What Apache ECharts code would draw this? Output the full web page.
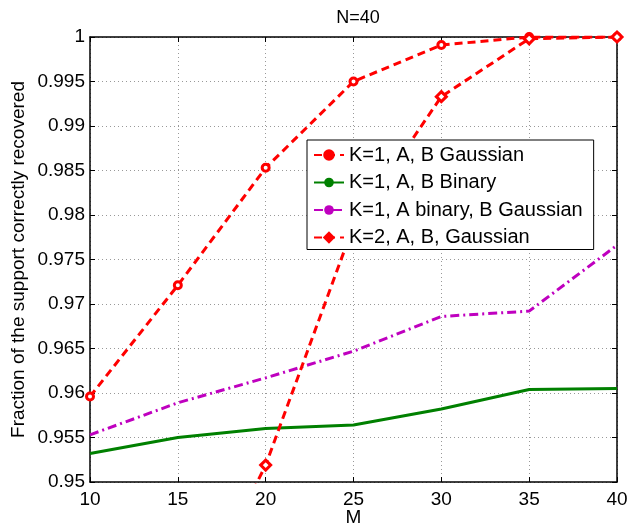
<!DOCTYPE html>
<html>
<head>
<meta charset="utf-8">
<script src="https://cdn.jsdelivr.net/npm/echarts@6/dist/echarts.min.js"></script>
<style>
html,body{margin:0;padding:0;background:#fff;}
#chart{width:639px;height:527px;}
</style>
</head>
<body>
<div id="chart"></div>
<script>
var titleText = 'N=40';
var xName = 'M';
var yName = 'Fraction of the support correctly recovered';
var M = [10, 15, 20, 25, 30, 35, 40];
var seriesNames = ['K=1, A, B Gaussian', 'K=1, A, B Binary', 'K=1, A binary, B Gaussian', 'K=2, A, B, Gaussian'];
var k1Gaussian = [0.9596, 0.9721, 0.9853, 0.9950, 0.9991, 1.0000, 1.0000];
var k1Binary = [0.9532, 0.9550, 0.9560, 0.9564, 0.9582, 0.9604, 0.9605];
var k1Mixed = [0.9553, 0.9589, 0.9617, 0.9647, 0.9686, 0.9692, 0.9766];
var k2Gaussian = [null, 0.932, 0.9519, 0.9788, 0.9933, 0.9998, 1.0000];

function pairs(ys) { return M.map(function (x, i) { return [x, ys[i]]; }); }

var FONT = 'Liberation Sans, Arial, Helvetica, sans-serif';
var chart = echarts.init(document.getElementById('chart'));

var baseX = { type: 'value', min: 10, max: 40, interval: 5 };
var baseY = { type: 'value', min: 0.95, max: 1, interval: 0.005 };
var axisLine = { show: true, onZero: false, lineStyle: { color: '#000', width: 1.5 } };
var axisTick = { show: true, inside: true, length: 5, lineStyle: { color: '#000', width: 1 } };

chart.setOption({
  animation: false,
  backgroundColor: '#fff',
  title: {
    text: titleText, left: 353, top: 4, textAlign: 'center',
    textStyle: { fontFamily: FONT, fontSize: 18, fontWeight: 'normal', color: '#000' }
  },
  grid: { left: 90, right: 22, top: 37, bottom: 45, containLabel: false, outerBoundsMode: 'none' },
  legend: {
    orient: 'vertical', left: 307, top: 140,
    data: [
      { name: seriesNames[0], itemStyle: { color: '#ff0000', borderColor: '#ff0000' } },
      { name: seriesNames[1] },
      { name: seriesNames[2] },
      { name: seriesNames[3], itemStyle: { color: '#ff0000', borderColor: '#ff0000' } }
    ],
    backgroundColor: '#fff', borderColor: '#000', borderWidth: 1,
    padding: [5, 11, 2, 6],
    itemWidth: 30, itemHeight: 12, itemGap: 7.5,
    textStyle: { fontFamily: FONT, fontSize: 20, color: '#000', lineHeight: 20 }
  },
  xAxis: [
    Object.assign({}, baseX, {
      position: 'bottom', name: xName, nameLocation: 'middle', nameGap: 26,
      nameMoveOverlap: false,
      nameTextStyle: { fontFamily: FONT, fontSize: 19, color: '#000', verticalAlign: 'top' },
      axisLine: axisLine, axisTick: axisTick,
      axisLabel: { fontFamily: FONT, fontSize: 19, color: '#000', margin: 8 },
      splitLine: { show: true, lineStyle: { color: '#999', type: [1, 3], width: 1 } }
    }),
    Object.assign({}, baseX, {
      position: 'top', axisLine: axisLine, axisTick: axisTick,
      axisLabel: { show: false }, splitLine: { show: false }
    })
  ],
  yAxis: [
    Object.assign({}, baseY, {
      position: 'left', name: yName, nameLocation: 'middle', nameGap: 62,
      nameMoveOverlap: false,
      nameTextStyle: { fontFamily: FONT, fontSize: 19, color: '#000' },
      axisLine: axisLine, axisTick: axisTick,
      axisLabel: {
        fontFamily: FONT, fontSize: 19, color: '#000', margin: 5,
        formatter: function (v) { return String(+v.toFixed(3)); }
      },
      splitLine: { show: true, lineStyle: { color: '#999', type: [1, 3], width: 1 } }
    }),
    Object.assign({}, baseY, {
      position: 'right', axisLine: axisLine, axisTick: axisTick,
      axisLabel: { show: false }, splitLine: { show: false }
    })
  ],
  series: [
    {
      name: seriesNames[0], type: 'line', data: pairs(k1Gaussian),
      symbol: 'circle', symbolSize: 7,
      lineStyle: { color: '#ff0000', width: 3, type: [8, 5] },
      itemStyle: { color: '#fff', borderColor: '#ff0000', borderWidth: 3 }
    },
    {
      name: seriesNames[1], type: 'line', data: pairs(k1Binary),
      symbol: 'none',
      lineStyle: { color: '#008000', width: 3, type: 'solid' },
      itemStyle: { color: '#008000' }
    },
    {
      name: seriesNames[2], type: 'line', data: pairs(k1Mixed),
      symbol: 'none',
      lineStyle: { color: '#bf00bf', width: 3, type: [9, 4, 2, 4] },
      itemStyle: { color: '#bf00bf' }
    },
    {
      name: seriesNames[3], type: 'line', data: pairs(k2Gaussian),
      symbol: 'diamond', symbolSize: 10,
      lineStyle: { color: '#ff0000', width: 3, type: [8, 5] },
      itemStyle: { color: '#fff', borderColor: '#ff0000', borderWidth: 3 }
    }
  ]
});
</script>
</body>
</html>
